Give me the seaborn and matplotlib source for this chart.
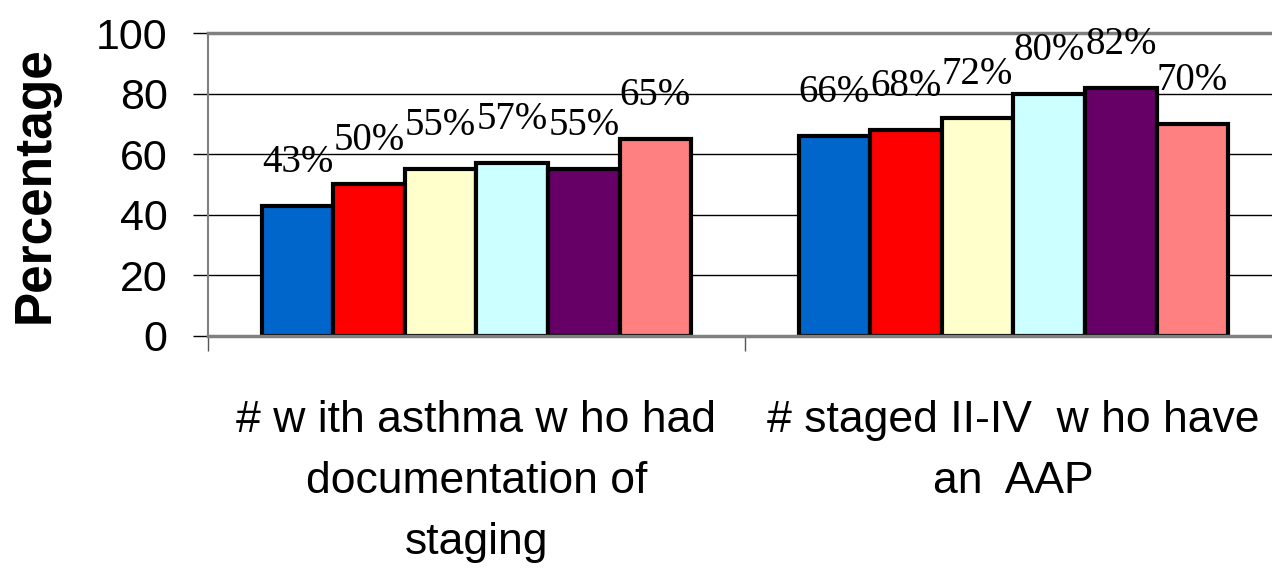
import numpy as np
import pandas as pd
import seaborn as sns
import matplotlib.pyplot as plt

# measures on the x axis (text kept as in the original slide)
measures = ["# w ith asthma w ho had\ndocumentation of\nstaging",
            "# staged II-IV  w ho have\nan  AAP"]
series = ["S1", "S2", "S3", "S4", "S5", "S6"]
pct_staging = [43, 50, 55, 57, 55, 65]
pct_aap = [66, 68, 72, 80, 82, 70]
colors = ["#0066CC", "#FF0000", "#FFFFCC", "#CCFFFF", "#660066", "#FF8080"]

df = pd.DataFrame({
    "measure": [measures[0]] * len(series) + [measures[1]] * len(series),
    "series": series * 2,
    "pct": pct_staging + pct_aap,
})

sns.set_style("white")
plt.rcParams["font.family"] = ["Liberation Sans", "DejaVu Sans"]
plt.rcParams["text.color"] = "black"
plt.rcParams["axes.labelcolor"] = "black"
plt.rcParams["xtick.color"] = "black"
plt.rcParams["ytick.color"] = "black"

fig = plt.figure(figsize=(12.72, 5.76), dpi=100)
ax = fig.add_axes([0.1635, 0.4167, 0.8443, 0.526])

sns.barplot(data=df, x="measure", y="pct", hue="series", palette=colors,
            width=0.8, edgecolor="black", linewidth=3, saturation=1,
            legend=False, ax=ax)

for cont in ax.containers:
    ax.bar_label(cont, fmt="{:.0f}%", padding=18, fontsize=28,
                 family="Liberation Serif", color="black")

ax.set_ylim(0, 100)
ax.set_xlim(-0.5, 1.5)
ax.set_yticks([0, 20, 40, 60, 80, 100])
ax.tick_params(axis="y", labelsize=31, length=11, width=1, color="black",
               direction="out", pad=18, left=True, labelcolor="black")
# category boundary ticks on x
ax.set_xticks([-0.5, 0.5], minor=True)
ax.set_xticks([0, 1])
ax.set_xticklabels(measures, fontsize=32, linespacing=1.62, color="black")
ax.tick_params(axis="x", which="major", length=0, pad=46)
ax.tick_params(axis="x", which="minor", length=11, width=1, color="#555555",
               direction="out", bottom=True)

ax.yaxis.grid(True, color="black", linewidth=1)
ax.set_axisbelow(True)
for side in ["left", "bottom", "top", "right"]:
    ax.spines[side].set_color("#808080")
    ax.spines[side].set_linewidth(2.5)
ax.spines["left"].set_linewidth(1.5)

ax.set_xlabel("")
ax.set_ylabel("Percentage", fontsize=37, fontweight="bold", labelpad=26,
              color="black")

fig.savefig("out.png", dpi=100)
